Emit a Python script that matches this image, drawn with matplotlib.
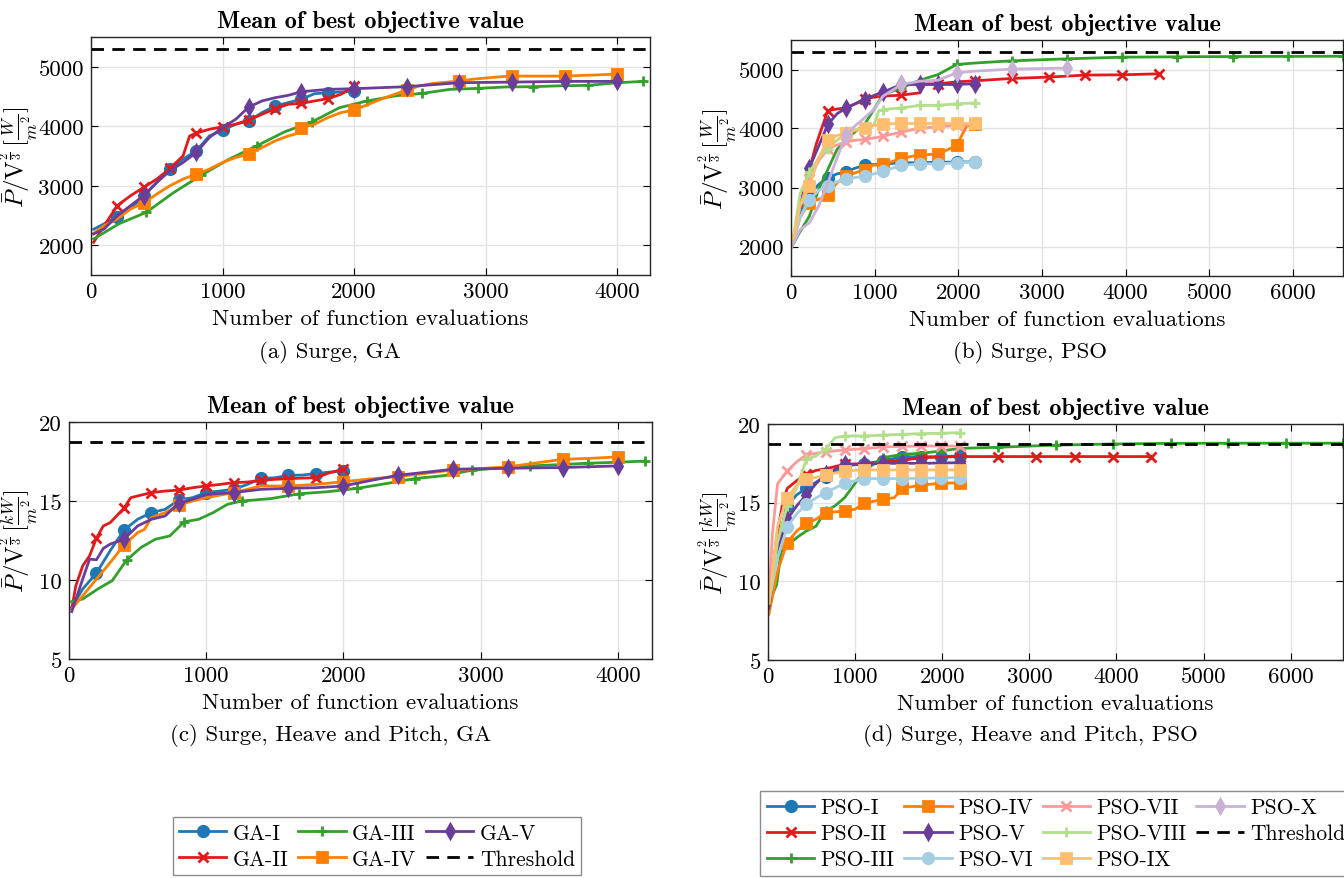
import numpy as np
import matplotlib
matplotlib.use("Agg")
import matplotlib.pyplot as plt

plt.rcParams['font.family'] = 'serif'
plt.rcParams['font.serif'] = ['cmr10']
plt.rcParams['mathtext.fontset'] = 'cm'
plt.rcParams['axes.unicode_minus'] = False

# ---- (a) Surge, GA ----
a_ga1_x = [20, 100, 200, 300, 400, 500, 600, 700, 800, 900, 1000, 1100, 1200, 1300, 1400, 1500, 1600, 1700, 1800, 1900, 2000]
a_ga1_y = [2270, 2360, 2475, 2610, 2830, 3055, 3280, 3447, 3587, 3838, 3933, 4034, 4089, 4229, 4341, 4397, 4453, 4548, 4564, 4575, 4585]
a_ga2_x = [20, 100, 200, 300, 400, 500, 600, 700, 750, 800, 900, 1000, 1100, 1200, 1300, 1400, 1500, 1600, 1700, 1800, 1900, 2000]
a_ga2_y = [2050, 2330, 2665, 2832, 2972, 3112, 3290, 3503, 3838, 3883, 3950, 3989, 4034, 4106, 4201, 4296, 4369, 4385, 4425, 4464, 4536, 4670]
a_ga3_x = [20, 210, 420, 630, 840, 1050, 1260, 1470, 1680, 1890, 2100, 2310, 2520, 2730, 2940, 3150, 3360, 3570, 3780, 3990, 4200]
a_ga3_y = [2106, 2358, 2553, 2888, 3179, 3447, 3670, 3905, 4073, 4313, 4425, 4510, 4553, 4620, 4636, 4660, 4665, 4680, 4687, 4730, 4754]
a_ga4_x = [20, 100, 200, 300, 400, 500, 600, 700, 800, 900, 1000, 1100, 1200, 1300, 1400, 1500, 1550, 1600, 1700, 1800, 1900, 2000,
           2100, 2200, 2300, 2400, 2500, 2600, 2700, 2800, 2900, 3000, 3100, 3200, 3600, 4000]
a_ga4_y = [2200, 2330, 2441, 2609, 2710, 2860, 3000, 3112, 3196, 3280, 3391, 3475, 3531, 3642, 3754, 3838, 3866, 3978, 4034, 4145, 4229, 4274,
           4360, 4450, 4530, 4608, 4680, 4720, 4740, 4759, 4790, 4810, 4830, 4843, 4843, 4876]
a_ga5_x = [20, 100, 200, 300, 400, 500, 600, 700, 800, 900, 1000, 1100, 1200, 1300, 1400, 1500, 1600, 1800, 2000, 2400, 2800, 3200, 3600, 4000]
a_ga5_y = [2190, 2274, 2497, 2665, 2832, 3056, 3251, 3391, 3559, 3810, 3978, 4117, 4324, 4425, 4480, 4520, 4581, 4620, 4631, 4665, 4732, 4742, 4754, 4754]

# ---- (b) Surge, PSO ----
b_pso1_x = [10, 110, 220, 330, 440, 550, 660, 770, 880, 990, 1100, 1320, 1540, 1760, 1980, 2200]
b_pso1_y = [2000, 2600, 2881, 3050, 3164, 3230, 3266, 3330, 3373, 3390, 3401, 3418, 3420, 3429, 3430, 3435]
b_pso2_x = [10, 110, 220, 300, 440, 550, 660, 770, 880, 990, 1100, 1320, 1540, 1600, 1760, 1980, 2200, 2640, 3080, 3520, 3960, 4400]
b_pso2_y = [2000, 2700, 3300, 3729, 4305, 4330, 4350, 4420, 4503, 4530, 4548, 4565, 4605, 4757, 4757, 4790, 4809, 4848, 4871, 4905, 4910, 4927]
b_pso3_x = [10, 100, 220, 330, 440, 550, 660, 770, 880, 990, 1100, 1320, 1540, 1760, 1980, 2200, 2640, 3300, 3960, 4620, 5280, 5940, 6600]
b_pso3_y = [2000, 2232, 2514, 2966, 3305, 3644, 3814, 3950, 4068, 4322, 4576, 4689, 4819, 4915, 5085, 5110, 5147, 5181, 5209, 5215, 5220, 5222, 5225]
b_pso4_x = [10, 110, 220, 330, 440, 550, 660, 770, 880, 990, 1100, 1320, 1540, 1760, 1980, 2100, 2200]
b_pso4_y = [2000, 2500, 2740, 2800, 2870, 3080, 3192, 3250, 3305, 3380, 3390, 3492, 3554, 3565, 3712, 4040, 4068]
b_pso5_x = [10, 110, 220, 330, 440, 550, 660, 770, 880, 990, 1100, 1320, 1540, 1760, 1980, 2200]
b_pso5_y = [2000, 2700, 3333, 3700, 4068, 4250, 4350, 4420, 4480, 4560, 4616, 4746, 4746, 4746, 4746, 4760]
b_pso6_x = [10, 110, 220, 330, 440, 550, 660, 770, 880, 990, 1100, 1320, 1540, 1760, 1980, 2200]
b_pso6_y = [2000, 2500, 2785, 2950, 3023, 3100, 3136, 3170, 3192, 3230, 3277, 3373, 3401, 3401, 3418, 3429]
b_pso7_x = [10, 110, 220, 330, 440, 550, 660, 770, 880, 990, 1100, 1320, 1540, 1760, 1980, 2200]
b_pso7_y = [2000, 2700, 3140, 3450, 3661, 3720, 3774, 3800, 3814, 3840, 3870, 3938, 4006, 4028, 4051, 4068]
b_pso8_x = [10, 110, 220, 330, 440, 550, 660, 770, 880, 990, 1050, 1100, 1320, 1540, 1760, 1980, 2200]
b_pso8_y = [2000, 2900, 3260, 3500, 3661, 3800, 3927, 3980, 4011, 4050, 4300, 4322, 4350, 4390, 4395, 4418, 4435]
b_pso9_x = [10, 110, 220, 330, 440, 550, 660, 770, 880, 990, 1100, 1320, 1540, 1760, 1980, 2200]
b_pso9_y = [2000, 2700, 3023, 3500, 3802, 3880, 3927, 3970, 4000, 4050, 4079, 4085, 4085, 4085, 4085, 4085]
b_pso10_x = [10, 110, 220, 330, 440, 550, 660, 770, 880, 990, 1100, 1320, 1540, 1760, 1980, 2200, 2640, 3300]
b_pso10_y = [2000, 2288, 2401, 2684, 3079, 3500, 3898, 4050, 4181, 4322, 4548, 4746, 4802, 4819, 4944, 4972, 5007, 5024]

# ---- (c) Surge, Heave and Pitch, GA ----
c_ga1_x = [20, 100, 200, 300, 400, 500, 600, 700, 800, 900, 1000, 1100, 1200, 1300, 1400, 1500, 1600, 1700, 1800, 1900, 2000]
c_ga1_y = [8.28, 9.43, 10.44, 11.85, 13.15, 13.84, 14.26, 14.47, 15.06, 15.21, 15.53, 15.63, 15.74, 16.05, 16.43, 16.47, 16.62, 16.64, 16.74, 16.83, 16.89]
c_ga2_x = [20, 50, 100, 150, 200, 250, 300, 400, 450, 500, 600, 700, 800, 900, 1000, 1100, 1200, 1300, 1400, 1500, 1600, 1700, 1800, 1900, 2000]
c_ga2_y = [8.17, 9.64, 10.9, 11.53, 12.65, 13.42, 13.63, 14.54, 15.21, 15.32, 15.53, 15.63, 15.69, 15.84, 15.95, 16.05, 16.16, 16.2, 16.3, 16.37, 16.41, 16.45, 16.47, 16.79, 17.0]
c_ga3_x = [20, 100, 210, 315, 420, 525, 630, 735, 840, 945, 1050, 1155, 1260, 1470, 1680, 1890, 2100, 2310, 2520, 2730, 2940, 3150, 3360, 3570, 3780, 3990, 4200]
c_ga3_y = [8.63, 8.8, 9.43, 9.96, 11.26, 12.06, 12.58, 12.79, 13.68, 13.84, 14.26, 14.79, 15.0, 15.15, 15.46, 15.59, 15.8, 16.1, 16.42, 16.6, 16.95, 17.1, 17.22, 17.3, 17.39, 17.45, 17.53]
c_ga4_x = [20, 100, 200, 300, 400, 500, 550, 600, 700, 800, 900, 1000, 1200, 1400, 1600, 1800, 2000, 2200, 2400, 2600, 2800, 3000, 3200, 3400, 3600, 3800, 4000]
c_ga4_y = [8.17, 9.0, 10.06, 11.1, 12.2, 13.0, 13.2, 13.95, 14.26, 14.75, 15.0, 15.21, 15.53, 15.95, 15.95, 16.05, 16.22, 16.4, 16.55, 16.75, 16.97, 17.05, 17.16, 17.4, 17.64, 17.7, 17.79]
c_ga5_x = [20, 100, 150, 200, 250, 300, 400, 500, 600, 700, 800, 900, 1000, 1200, 1400, 1600, 1800, 2000, 2200, 2400, 2800, 3200, 3600, 4000]
c_ga5_y = [8.0, 10.06, 11.32, 11.28, 12.0, 12.27, 12.58, 13.42, 13.84, 14.05, 14.85, 15.1, 15.42, 15.53, 15.74, 15.8, 15.84, 15.95, 16.3, 16.63, 17.01, 17.07, 17.12, 17.22]

# ---- (d) Surge, Heave and Pitch, PSO ----
d_pso1_x = [10, 110, 220, 330, 440, 550, 660, 770, 880, 1100, 1320, 1540, 1760, 1980, 2200]
d_pso1_y = [8.6, 12.5, 14.8, 15.5, 15.91, 16.3, 16.65, 17.0, 17.33, 17.48, 17.65, 17.92, 17.92, 17.93, 17.97]
d_pso2_x = [10, 60, 110, 170, 220, 330, 440, 550, 660, 880, 1100, 1320, 1540, 1760, 2200, 2640, 3080, 3520, 3960, 4400]
d_pso2_y = [8.6, 11.0, 13.2, 15.0, 15.9, 16.4, 16.8, 17.05, 17.15, 17.44, 17.48, 17.58, 17.69, 17.86, 17.93, 17.93, 17.93, 17.93, 17.93, 17.93]
d_pso3_x = [10, 100, 150, 220, 330, 440, 550, 660, 770, 880, 990, 1100, 1210, 1320, 1540, 1760, 1980, 2200, 2640, 3300, 3960, 4620, 5280, 5940, 6600]
d_pso3_y = [8.6, 9.8, 11.9, 12.25, 12.78, 13.2, 13.5, 14.47, 14.8, 15.32, 16.16, 17.0, 17.44, 17.86, 18.07, 18.14, 18.28, 18.45, 18.52, 18.66, 18.73, 18.77, 18.78, 18.78, 18.78]
d_pso4_x = [10, 110, 220, 330, 440, 550, 660, 880, 1000, 1100, 1320, 1450, 1540, 1760, 1980, 2200]
d_pso4_y = [7.9, 10.66, 12.46, 13.2, 13.69, 13.94, 14.36, 14.47, 14.58, 14.96, 15.21, 15.32, 15.91, 16.12, 16.23, 16.27]
d_pso5_x = [10, 110, 220, 330, 440, 550, 660, 880, 1100, 1320, 1540, 1760, 1980, 2200]
d_pso5_y = [8.3, 12.0, 13.94, 14.8, 15.49, 16.2, 16.8, 17.44, 17.44, 17.5, 17.5, 17.5, 17.52, 17.54]
d_pso6_x = [10, 110, 220, 330, 440, 550, 660, 880, 1100, 1320, 1540, 1760, 1980, 2200]
d_pso6_y = [8.6, 11.5, 13.45, 14.3, 14.89, 15.3, 15.64, 16.23, 16.53, 16.53, 16.53, 16.55, 16.57, 16.59]
d_pso7_x = [10, 50, 110, 220, 330, 440, 660, 880, 1100, 1320, 1540, 1760, 1980, 2200]
d_pso7_y = [8.6, 13.0, 16.2, 17.01, 17.6, 18.03, 18.24, 18.35, 18.43, 18.54, 18.58, 18.6, 18.6, 18.6]
d_pso8_x = [10, 110, 220, 330, 440, 550, 660, 770, 880, 1100, 1320, 1540, 1760, 1980, 2200]
d_pso8_y = [8.6, 12.5, 14.79, 15.95, 17.75, 17.97, 18.39, 19.13, 19.24, 19.24, 19.3, 19.34, 19.39, 19.41, 19.45]
d_pso9_x = [10, 110, 220, 330, 440, 550, 660, 880, 1100, 1320, 1540, 1760, 1980, 2200]
d_pso9_y = [8.6, 13.5, 15.32, 16.1, 16.48, 16.6, 16.76, 17.01, 17.08, 17.08, 17.08, 17.08, 17.08, 17.08]

threshold_surge = 5290
threshold_shp = 18.76

ga_names = ['GA-I', 'GA-II', 'GA-III', 'GA-IV', 'GA-V']
pso_names = ['PSO-I', 'PSO-II', 'PSO-III', 'PSO-IV', 'PSO-V', 'PSO-VI', 'PSO-VII', 'PSO-VIII', 'PSO-IX', 'PSO-X']

# Paired colormap-ish colours
colors = ['#1f78b4', '#e31a1c', '#33a02c', '#ff7f00', '#6a3d9a',
          '#a6cee3', '#fb9a99', '#b2df8a', '#fdbf6f', '#cab2d6']
markers = ['o', 'x', '+', 's', 'd', 'o', 'x', '+', 's', 'd']
n_marks = [10] * 9 + [5]

a_series = [(a_ga1_x, a_ga1_y), (a_ga2_x, a_ga2_y), (a_ga3_x, a_ga3_y), (a_ga4_x, a_ga4_y), (a_ga5_x, a_ga5_y)]
c_series = [(c_ga1_x, c_ga1_y), (c_ga2_x, c_ga2_y), (c_ga3_x, c_ga3_y), (c_ga4_x, c_ga4_y), (c_ga5_x, c_ga5_y)]
b_series = [(b_pso1_x, b_pso1_y), (b_pso2_x, b_pso2_y), (b_pso3_x, b_pso3_y), (b_pso4_x, b_pso4_y), (b_pso5_x, b_pso5_y),
            (b_pso6_x, b_pso6_y), (b_pso7_x, b_pso7_y), (b_pso8_x, b_pso8_y), (b_pso9_x, b_pso9_y), (b_pso10_x, b_pso10_y)]
d_series = [(d_pso1_x, d_pso1_y), (d_pso2_x, d_pso2_y), (d_pso3_x, d_pso3_y), (d_pso4_x, d_pso4_y), (d_pso5_x, d_pso5_y),
            (d_pso6_x, d_pso6_y), (d_pso7_x, d_pso7_y), (d_pso8_x, d_pso8_y), (d_pso9_x, d_pso9_y), None]

FS = 16.5
ylab_w = r'$\bar{P}/\mathrm{V}^{\frac{2}{3}}\,[\frac{W}{m^2}]$'
ylab_kw = r'$\bar{P}/\mathrm{V}^{\frac{2}{3}}\,[\frac{kW}{m^2}]$'


def mark_idx(x, n):
    step = x[-1] / n
    return [i for i, v in enumerate(x) if v > 0 and abs(v / step - round(v / step)) < 1e-6]


def draw(ax, series, names, thr, xmax, ylim, yticks, xticks, ylabel, ylab_x):
    handles = []
    for k, s in enumerate(series):
        if s is None:
            continue
        x, y = s
        h, = ax.plot(x, y, color=colors[k], lw=2.0, marker=markers[k], ms=7.5, mew=2.0,
                     markevery=mark_idx(x, n_marks[k]), label=names[k])
        handles.append(h)
    th = ax.axhline(thr, color='black', lw=2.0, ls=(0, (4.5, 3)), label='Threshold')
    handles.append(th)
    ax.set_xlim(0, xmax)
    ax.set_ylim(*ylim)
    ax.set_xticks(xticks)
    ax.set_yticks(yticks)
    ax.grid(True, color='#e3e3e3', lw=1.0)
    ax.set_axisbelow(True)
    ax.tick_params(direction='in', top=True, right=True, labelsize=FS, length=5, pad=5)
    for sp in ax.spines.values():
        sp.set_linewidth(1.0)
        sp.set_color('#262626')
    ax.set_xlabel('Number of function evaluations', fontsize=FS, labelpad=5)
    ax.set_ylabel(ylabel, fontsize=18)
    ax.yaxis.set_label_coords(ylab_x, 0.5)
    ax.set_title('Mean of best objective value', fontfamily='cmb10', fontsize=17.5, pad=7)
    return handles


fig = plt.figure(figsize=(13.44, 8.79), dpi=100)
W, H = 1344.0, 879.0


def add_ax(l, r, t, b):
    return fig.add_axes([l / W, 1 - b / H, (r - l) / W, (b - t) / H])


ax_a = add_ax(91, 650, 38, 276)
ax_b = add_ax(791, 1343, 41, 277)
ax_c = add_ax(69, 652, 423, 660)
ax_d = add_ax(768, 1343, 425, 661)

h_ga = draw(ax_a, a_series, ga_names, threshold_surge, 4250, (1500, 5500),
            [2000, 3000, 4000, 5000], [0, 1000, 2000, 3000, 4000], ylab_w, -0.089)
h_pso = draw(ax_b, b_series, pso_names, threshold_surge, 6600, (1500, 5500),
             [2000, 3000, 4000, 5000], [0, 1000, 2000, 3000, 4000, 5000, 6000], ylab_w, -0.093)
draw(ax_c, c_series, ga_names, threshold_shp, 4250, (5, 20),
     [5, 10, 15, 20], [0, 1000, 2000, 3000, 4000], ylab_kw, -0.048)
draw(ax_d, d_series, pso_names, threshold_shp, 6600, (5, 20),
     [5, 10, 15, 20], [0, 1000, 2000, 3000, 4000, 5000, 6000], ylab_kw, -0.048)

fig.text(330 / W, 1 - 352 / H, '(a) Surge, GA', ha='center', va='center', fontsize=FS)
fig.text(1030 / W, 1 - 352 / H, '(b) Surge, PSO', ha='center', va='center', fontsize=FS)
fig.text(331 / W, 1 - 736 / H, '(c) Surge, Heave and Pitch, GA', ha='center', va='center', fontsize=FS)
fig.text(1030 / W, 1 - 736 / H, '(d) Surge, Heave and Pitch, PSO', ha='center', va='center', fontsize=FS)

leg_kw = dict(loc='center', fontsize=15.5, frameon=True, fancybox=False, edgecolor='#707070',
              handlelength=2.2, handletextpad=0.3, columnspacing=0.45, labelspacing=0.3,
              borderpad=0.3, borderaxespad=0.0)
lg1 = fig.legend(handles=h_ga, ncol=3, bbox_to_anchor=(377 / W, 1 - 847 / H), **leg_kw)
lg2 = fig.legend(handles=h_pso, ncol=4, bbox_to_anchor=(1056 / W, 1 - 834.5 / H), **leg_kw)
for lg in (lg1, lg2):
    lg.get_frame().set_linewidth(1.0)

fig.savefig('out.png', dpi=100)
